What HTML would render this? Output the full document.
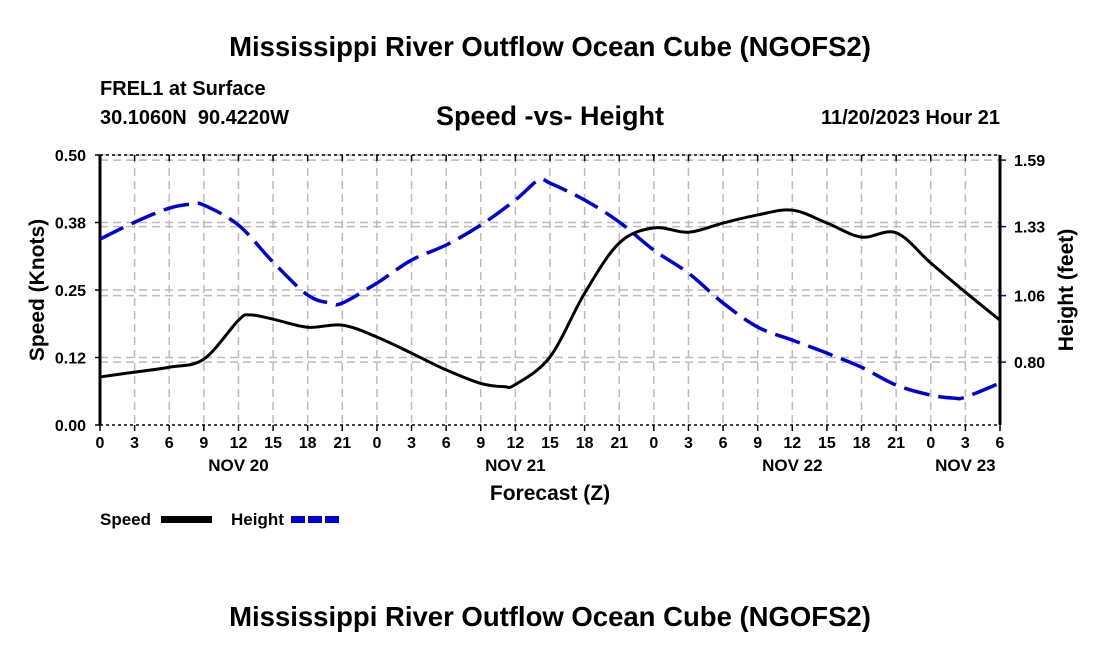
<!DOCTYPE html>
<html><head><meta charset="utf-8"><style>
body{margin:0;background:#fff;}
svg text{font-family:"Liberation Sans",sans-serif;font-weight:bold;fill:#000;white-space:pre;}
</style></head><body>
<svg id="chart" width="1100" height="650">
<text x="550" y="56" font-size="27.5" text-anchor="middle">Mississippi River Outflow Ocean Cube (NGOFS2)</text>
<text x="100" y="95" font-size="20">FREL1 at Surface</text>
<text x="100" y="124" font-size="20" xml:space="preserve">30.1060N  90.4220W</text>
<text x="550" y="125" font-size="27" text-anchor="middle">Speed -vs- Height</text>
<text x="1000" y="124" font-size="20" text-anchor="end">11/20/2023 Hour 21</text>
<g id="grid"></g><g id="axes"></g><g id="series"></g>
<text transform="translate(44,290) rotate(-90)" font-size="21" text-anchor="middle">Speed (Knots)</text>
<text transform="translate(1073,290) rotate(-90)" font-size="21" text-anchor="middle">Height (feet)</text>
<text x="550" y="500" font-size="21" text-anchor="middle">Forecast (Z)</text>
<g>
<text x="100" y="525" font-size="17">Speed</text>
<rect x="161" y="516" width="51" height="7" fill="#000"/>
<text x="231" y="525" font-size="17">Height</text>
<line x1="291" y1="519.5" x2="342" y2="519.5" stroke="#0000dd" stroke-width="7" stroke-dasharray="14 3"/>
</g>
<text x="550" y="626" font-size="27.5" text-anchor="middle">Mississippi River Outflow Ocean Cube (NGOFS2)</text>
</svg>
<script>
const speedHours=[0,3,6,9,12,13,15,18,21,24,27,30,33,35,36,39,42,45,48,51,54,57,60,63,66,69,72,75,78];
const speedVals=[0.089,0.098,0.107,0.122,0.194,0.204,0.196,0.181,0.185,0.163,0.133,0.102,0.077,0.071,0.075,0.126,0.244,0.337,0.365,0.357,0.374,0.389,0.398,0.374,0.348,0.356,0.3,0.246,0.194];
const heightHours=[0,3,6,8,9,12,15,18,20,21,24,27,30,33,36,38,39,42,45,48,51,54,57,60,63,66,69,72,74,75,78];
const heightVals=[1.281,1.347,1.402,1.418,1.414,1.336,1.191,1.062,1.031,1.031,1.109,1.199,1.258,1.336,1.434,1.512,1.5,1.434,1.348,1.238,1.148,1.031,0.937,0.886,0.835,0.78,0.71,0.671,0.659,0.663,0.718];
const hourLabels=["0","3","6","9","12","15","18","21","0","3","6","9","12","15","18","21","0","3","6","9","12","15","18","21","0","3","6"];
const dayLabels=["NOV 20","NOV 21","NOV 22","NOV 23"];
const dayHours=[12,36,60,75];
const leftTicks=[0,0.125,0.25,0.375,0.5];
const leftTickLabels=["0.00","0.12","0.25","0.38","0.50"];
const rightTicks=[0.80,1.06,1.33,1.59];
const rightTickLabels=["0.80","1.06","1.33","1.59"];
const X0=100,X1=1000,Y0=425,Y1=155;
const x=h=>X0+(X1-X0)*h/78;
const yL=v=>Y0-(Y0-Y1)*v/0.5;
const RMIN=0.554,RMAX=1.61;
const yR=v=>Y0-(Y0-Y1)*(v-RMIN)/(RMAX-RMIN);
const NS='http://www.w3.org/2000/svg';
function mk(tag,attrs,parent){const e=document.createElementNS(NS,tag);for(const k in attrs)e.setAttribute(k,attrs[k]);parent.appendChild(e);return e;}
const grid=document.getElementById('grid'),axes=document.getElementById('axes'),series=document.getElementById('series');
const gs={stroke:'#bbb','stroke-width':1.5,'stroke-dasharray':'8 5',fill:'none'};
for(let i=1;i<hourLabels.length-1;i++){const l=mk('line',Object.assign({x1:x(i*3),x2:x(i*3),y1:Y1,y2:Y0},gs),grid);

}
leftTicks.forEach((v,i)=>{if(i>0){const l=mk('line',Object.assign({x1:X0,x2:X1,y1:yL(v),y2:yL(v)},gs),grid);

}
const t=mk('line',{x1:X0-5,x2:X0,y1:yL(v),y2:yL(v),stroke:'#000','stroke-width':1.5},axes);


const tx=mk('text',{x:X0-14,y:yL(v)+6,'font-size':16,'text-anchor':'end'},axes);tx.textContent=leftTickLabels[i];

});
rightTicks.forEach((v,i)=>{const l=mk('line',Object.assign({x1:X0,x2:X1,y1:yR(v),y2:yR(v)},gs),grid);


const t=mk('line',{x1:X1,x2:X1+6,y1:yR(v),y2:yR(v),stroke:'#0000cc','stroke-width':1.5},axes);


const tx=mk('text',{x:X1+14,y:yR(v)+6,'font-size':16},axes);tx.textContent=rightTickLabels[i];

});
[[X0,Y1,X1,Y1],[X0,Y0,X1,Y0]].forEach(a=>{const l=mk('line',{x1:a[0],y1:a[1],x2:a[2],y2:a[3],stroke:'#000','stroke-width':1.5,'stroke-dasharray':'3 3'},axes);

});
[X0,X1].forEach(xx=>{const l=mk('line',{x1:xx,y1:Y1,x2:xx,y2:Y0,stroke:'#000','stroke-width':3},axes);

});
hourLabels.forEach((s,i)=>{const h=i*3;
const t=mk('line',{x1:x(h),x2:x(h),y1:Y0,y2:Y0+6,stroke:'#000','stroke-width':1.5},axes);


const t2=mk('line',{x1:x(h),x2:x(h),y1:Y1,y2:Y1+6,stroke:'#000','stroke-width':1.5},axes);


const tx=mk('text',{x:x(h),y:Y0+23,'font-size':16,'text-anchor':'middle'},axes);tx.textContent=s;

});
dayLabels.forEach((s,i)=>{const tx=mk('text',{x:x(dayHours[i]),y:Y0+46,'font-size':17,'text-anchor':'middle'},axes);tx.textContent=s;

});
function path(hs,vs,yf){const p=hs.map((h,i)=>[x(h),yf(vs[i])]);let d='M'+p[0][0]+','+p[0][1];
for(let i=0;i<p.length-1;i++){const a=p[Math.max(0,i-1)],b=p[i],c=p[i+1],e=p[Math.min(p.length-1,i+2)];
const c1=[b[0]+(c[0]-a[0])/6,b[1]+(c[1]-a[1])/6],c2=[c[0]-(e[0]-b[0])/6,c[1]-(e[1]-b[1])/6];
d+=' C'+c1[0]+','+c1[1]+' '+c2[0]+','+c2[1]+' '+c[0]+','+c[1];}return d;}
const hp=mk('path',{d:path(heightHours,heightVals,yR),fill:'none',stroke:'#0000dd','stroke-width':3.5,'stroke-dasharray':'26 9'},series);


const sp=mk('path',{d:path(speedHours,speedVals,yL),fill:'none',stroke:'#000','stroke-width':3},series);


</script>
</body></html>
